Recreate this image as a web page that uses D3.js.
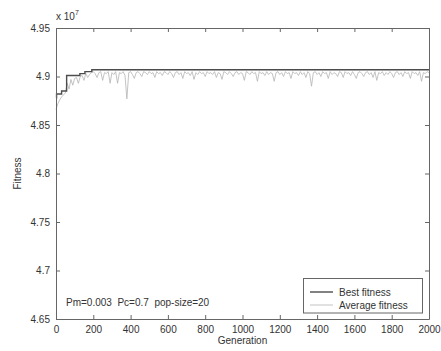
<!DOCTYPE html>
<html>
<head>
<meta charset="utf-8">
<script src="https://cdn.jsdelivr.net/npm/d3@7"></script>
<style>
  html, body { margin: 0; padding: 0; background: #fff; }
  svg { display: block; font-family: "Liberation Sans", Arial, sans-serif; }
  text { fill: #333; }
</style>
</head>
<body>
<svg id="chart" width="441" height="351"></svg>
<script>
// Best fitness: step changes (generation, fitness in units of 1e7)
const bestGen = [0, 3, 30, 57, 128, 155, 192, 2000];
const bestVal = [4.878, 4.882, 4.885, 4.901, 4.903, 4.905, 4.907, 4.907];

// Average fitness sampled every 10 generations (0..2000)
const avgGen = d3.range(0, 2001, 10);
const avgVal = [
  4.866, 4.872, 4.876, 4.879, 4.881, 4.883, 4.893, 4.887, 4.897, 4.891,
  4.898, 4.899, 4.893, 4.900, 4.901, 4.896, 4.903, 4.899, 4.902, 4.904,
  4.905, 4.903, 4.899, 4.904, 4.905, 4.896, 4.904, 4.903, 4.905, 4.893,
  4.904, 4.902, 4.905, 4.893, 4.904, 4.903, 4.905, 4.901, 4.877, 4.904,
  4.905, 4.902, 4.898, 4.904, 4.905, 4.903, 4.900, 4.905, 4.904, 4.902,
  4.905, 4.903, 4.904, 4.899, 4.905, 4.903, 4.904, 4.901, 4.905, 4.904,
  4.902, 4.905, 4.903, 4.899, 4.904, 4.905, 4.902, 4.904, 4.898, 4.905,
  4.903, 4.904, 4.901, 4.905, 4.897, 4.904, 4.902, 4.905, 4.903, 4.904,
  4.900, 4.905, 4.903, 4.904, 4.902, 4.905, 4.899, 4.904, 4.903, 4.897,
  4.905, 4.904, 4.902, 4.905, 4.903, 4.900, 4.904, 4.905, 4.902, 4.904,
  4.903, 4.896, 4.905, 4.904, 4.902, 4.905, 4.903, 4.904, 4.895, 4.905,
  4.903, 4.904, 4.901, 4.905, 4.902, 4.904, 4.903, 4.895, 4.904, 4.905,
  4.902, 4.904, 4.900, 4.905, 4.903, 4.904, 4.898, 4.905, 4.903, 4.904,
  4.901, 4.905, 4.902, 4.904, 4.899, 4.905, 4.903, 4.890, 4.904, 4.905,
  4.902, 4.904, 4.900, 4.905, 4.903, 4.904, 4.898, 4.905, 4.902, 4.904,
  4.903, 4.900, 4.905, 4.904, 4.899, 4.905, 4.903, 4.904, 4.901, 4.905,
  4.902, 4.898, 4.904, 4.905, 4.903, 4.900, 4.904, 4.905, 4.902, 4.904,
  4.899, 4.905, 4.896, 4.904, 4.903, 4.905, 4.901, 4.904, 4.902, 4.905,
  4.903, 4.899, 4.904, 4.905, 4.902, 4.904, 4.900, 4.905, 4.903, 4.904,
  4.898, 4.905, 4.903, 4.904, 4.901, 4.905, 4.895, 4.904, 4.903, 4.905,
  4.904
];

const xTicks = [0, 200, 400, 600, 800, 1000, 1200, 1400, 1600, 1800, 2000];
const yTicks = [4.65, 4.7, 4.75, 4.8, 4.85, 4.9, 4.95];
const yTickLabels = ["4.65", "4.7", "4.75", "4.8", "4.85", "4.9", "4.95"];
const legendLabels = ["Best fitness", "Average fitness"];
const paramText = "Pm=0.003  Pc=0.7  pop-size=20";

const svg = d3.select("#chart");
const m = { left: 56, right: 429, top: 28, bottom: 319 };

const x = d3.scaleLinear().domain([0, 2000]).range([m.left, m.right]);
const y = d3.scaleLinear().domain([4.65, 4.95]).range([m.bottom, m.top]);

const axisColor = "#666";
const avgStyle = { stroke: "#b4b4b4", width: 0.8 };
const bestStyle = { stroke: "#4d4d4d", width: 1.4 };

// Average fitness (thin light line)
const avgData = avgGen.map((g, i) => [g, avgVal[i]]);
svg.append("path")
  .datum(avgData)
  .attr("fill", "none")
  .attr("stroke", avgStyle.stroke)
  .attr("stroke-width", avgStyle.width)
  .attr("d", d3.line().x(d => x(d[0])).y(d => y(d[1])));

// Best fitness (step line)
const bestData = bestGen.map((g, i) => [g, bestVal[i]]);
svg.append("path")
  .datum(bestData)
  .attr("fill", "none")
  .attr("stroke", bestStyle.stroke)
  .attr("stroke-width", bestStyle.width)
  .attr("d", d3.line().curve(d3.curveStepAfter).x(d => x(d[0])).y(d => y(d[1])));

// Axes with inward ticks on all four sides
function styleAxis(g) {
  g.selectAll(".domain").attr("stroke", axisColor);
  g.selectAll(".tick line").attr("stroke", axisColor);
  g.selectAll(".tick text").attr("fill", "#3a3a3a").style("font-size", "10px")
    .style("font-family", "'Liberation Sans', Arial, sans-serif");
}

svg.append("g")
  .attr("transform", `translate(0,${m.bottom})`)
  .call(d3.axisBottom(x).tickValues(xTicks).tickSizeInner(-4).tickSizeOuter(0).tickPadding(7).tickFormat(d3.format("d")))
  .call(styleAxis);

svg.append("g")
  .attr("transform", `translate(0,${m.top})`)
  .call(d3.axisTop(x).tickValues(xTicks).tickSizeInner(-4).tickSizeOuter(0).tickFormat(""))
  .call(styleAxis);

svg.append("g")
  .attr("transform", `translate(${m.left},0)`)
  .call(d3.axisLeft(y).tickValues(yTicks).tickSizeInner(-4).tickSizeOuter(0).tickPadding(6)
    .tickFormat((d, i) => yTickLabels[i]))
  .call(styleAxis);

svg.append("g")
  .attr("transform", `translate(${m.right},0)`)
  .call(d3.axisRight(y).tickValues(yTicks).tickSizeInner(-4).tickSizeOuter(0).tickFormat(""))
  .call(styleAxis);

// Exponent label
const expo = svg.append("text").attr("x", m.left).attr("y", 20).style("font-size", "10px");
expo.append("tspan").text("x 10");
expo.append("tspan").attr("dy", -5).style("font-size", "7px").text("7");

// Axis titles
svg.append("text")
  .attr("x", (m.left + m.right) / 2).attr("y", 344)
  .attr("text-anchor", "middle").style("font-size", "10px")
  .text("Generation");

svg.append("text")
  .attr("transform", `translate(21,${(m.top + m.bottom) / 2}) rotate(-90)`)
  .attr("text-anchor", "middle").style("font-size", "10px")
  .text("Fitness");

// Parameter annotation
svg.append("text")
  .attr("x", 66).attr("y", 306)
  .style("font-size", "10px").style("white-space", "pre")
  .text(paramText);

// Legend
const lg = svg.append("g");
lg.append("rect")
  .attr("x", 303.5).attr("y", 278.5).attr("width", 119).attr("height", 34.5)
  .attr("fill", "#fff").attr("stroke", axisColor).attr("stroke-width", 1);
const legendStyles = [bestStyle, avgStyle];
legendLabels.forEach((lab, i) => {
  const yy = 292 + i * 13;
  lg.append("line")
    .attr("x1", 310).attr("x2", 333).attr("y1", yy).attr("y2", yy)
    .attr("stroke", legendStyles[i].stroke).attr("stroke-width", legendStyles[i].width);
  lg.append("text")
    .attr("x", 339).attr("y", yy + 3.5)
    .style("font-size", "10px")
    .text(lab);
});
</script>
</body>
</html>
